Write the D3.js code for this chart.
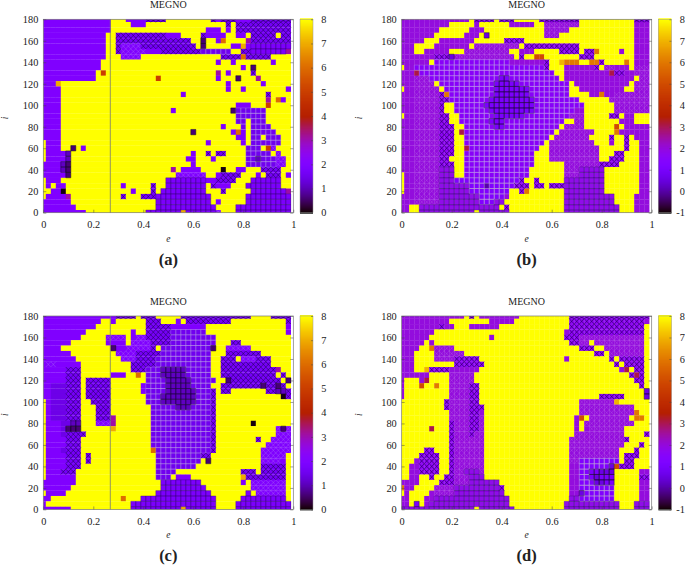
<!DOCTYPE html>
<html>
<head>
<meta charset="utf-8">
<script src="https://cdn.jsdelivr.net/npm/d3@7"></script>
<style>
  html, body { margin: 0; padding: 0; background: #fff; }
  text { font-family: "Liberation Serif", serif; fill: #222; }
</style>
</head>
<body>
<div id="chart"></div>
<script>
"use strict";

// one row per inclination, i = 180 at the top down to 0, run-length coded as count + level code
// columns are e = 0, 0.02 ... 0.98
var rowsA = [
  "14p 3Y 4p 4x 9Y 1x 1p 3x 3p 8x",
  "14p 4Y 3p 16Y 1x 1Y 11x",
  "14p 19Y 3p 1Y 1p 1Y 11x",
  "13p 2Y 10x 3p 4Y 1x 4p 2Y 2p 1Y 5x 1Y 2x",
  "13p 2Y 15x 2Y 1k 2Y 1p 1n 4Y 1m 8x",
  "13p 2Y 1x 4c 11x 1Y 1k 5Y 2p 1o 1p 8s",
  "13p 2Y 1x 5c 3p 8x 6g 2Y 2x 7s 1m",
  "13p 3Y 4c 16Y 4x 1n 5x 4Y",
  "12p 23Y 1p 2Y 1p 7Y 1p 3Y",
  "12p 28Y 1p 1Y 1k 7Y",
  "11p 1Y 1r 22Y 1m 1Y 1p 4Y 1x 7Y",
  "11p 12Y 1r 11Y 1p 3Y 1k 3Y 1m 6Y",
  "3p 1o 33Y 1p 6Y 1p 5Y",
  "4p 33Y 1p 2Y 1p 8Y 1p",
  "4p 24Y 1p 16Y 1x 4Y",
  "4p 41Y 1m 1Y 1n 1p 1Y",
  "4p 35Y 3p 3Y 1r 4Y",
  "4p 22Y 1p 11Y 1k 6g 5Y",
  "4p 35Y 6g 5Y",
  "4p 35Y 2g 1Y 3g 5Y",
  "4p 32Y 1p 3Y 1g 1Y 4g 4Y",
  "4p 26Y 1k 7Y 1p 1n 1p 1Y 5g 3Y",
  "4p 35Y 2p 1Y 2g 1Y 3g 2Y",
  "1Y 3p 29Y 1p 6Y 1p 1Y 6g 2Y",
  "1Y 3p 2Y 1k 1Y 1p 32Y 3g 1Y 1r 1c 3Y",
  "1Y 4p 1d 24Y 1p 2Y 1x 1Y 2x 4Y 5g 1Y 1c 2Y",
  "1Y 4p 1d 23Y 2p 3Y 1p 6Y 2g 1d 3g 2c 1Y",
  "4p 1d 1k 24Y 1p 10Y 6g 2c 1Y",
  "4p 1d 1k 20Y 1m 1Y 4p 4Y 1z 2Y 2p 3Y 4x 2Y",
  "5p 1k 21Y 6c 2Y 1p 4x 3Y 1p 1Y 3x 1Y 1p",
  "1Y 3p 21Y 8s 2p 4x 3Y 6s 2Y",
  "1Y 1p 1Y 2p 11Y 1p 5Y 1x 2Y 8s 1Y 1x 3p 3Y 7s 2Y",
  "2Y 2p 1z 13Y 1p 3Y 1x 1Y 9s 3Y 1x 5Y 7s 1m",
  "1Y 4p 1m 10Y 1x 3Y 2x 1x 11s 7Y 9s",
  "6p 17Y 11s 1Y 1p 5Y 9s",
  "7p 16Y 12s 4Y 11s",
  "9p 12Y 7s 1o 6s 1c 3Y 11s"
];

var rowsB = [
  "14p 1Y 4x 1Y 3x 5Y 8x 11Y 3x",
  "10p 5Y 1p 6Y 5p 2Y 7c 11Y 3p",
  "8p 6Y 3p 12Y 5c 13Y 3p",
  "7p 6Y 3p 1Y 1k 11Y 3c 15Y 3p",
  "5p 3Y 7p 6Y 4x 22Y 3p",
  "3p 3Y 1Y 6p 1p 1Y 9c 1Y 11x 11Y 3p",
  "3p 2Y 5p 3Y 9c 2Y 3p 5Y 4x 1Y 2x 1n 4Y 1p 2Y 3p",
  "7p 3x 1k 12c 1Y 1x 2Y 2r 7Y 3x 8Y 3p",
  "6p 1Y 15g 7p 1x 2Y 1o 3n 2Y 2n 1x 4Y 1n 1Y 3p",
  "1Y 2p 26g 1x 3Y 6p 1x 1Y 2c 3p 1Y 3c",
  "3p 1m 27g 2Y 9p 1m 2x 2p 3c",
  "3p 3c 14g 2d 10g 1Y 14p 1Y 2c",
  "3p 4c 1Y 11g 5d 10g 1Y 11p 1Y 3c",
  "1Y 2p 5c 1Y 10g 7d 8g 2Y 6p 3p 2Y 3c",
  "3p 5c 1x 1n 9g 7d 8g 4Y 2p 1n 2p 7c",
  "3p 5c 2x 8g 9d 9g 6Y 8c",
  "3p 5c 1x 2Y 6g 10d 10g 6Y 7c",
  "3p 5c 1x 2Y 7g 9d 8g 2p 6Y 7c",
  "1Y 2p 5c 2x 2Y 7g 6d 9g 3c 4Y 1Y 2x 1Y 2p 3Y",
  "3p 5c 2x 2Y 6g 3d 12g 2Y 2c 7Y 3p 3Y",
  "3p 5c 3x 2Y 6g 2d 11g 1Y 4c 6Y 1r 1Y 5p",
  "3p 5c 3x 1Y 1m 18g 1Y 7c 4Y 1n 6p",
  "3p 5c 3x 2Y 17g 1Y 7c 4Y 1x 2Y 1x 1Y 3p",
  "3p 5c 3x 2Y 16g 1Y 9c 3Y 1p 2Y 1x 2Y 2p",
  "3p 5c 3x 2Y 1m 14g 2Y 10c 5Y 1x 2Y 2p",
  "3p 5c 3x 2Y 14g 3Y 10c 2Y 1Y 2x 3Y 2p",
  "3p 5c 2x 3Y 14g 3Y 3c 7c 2Y 3x 3Y 2p",
  "3p 5c 3x 2Y 14g 6Y 6c 1c 4x 4Y 2p",
  "3p 5c 3s 2Y 13g 7Y 3c 5s 7Y 2p",
  "1Y 2p 5c 3s 2Y 13g 7Y 3c 5s 7Y 2p",
  "1Y 2p 5c 3s 13h 1x 2Y 1x 5Y 3s 5s 7Y 2p",
  "1Y 2p 5c 3s 3s 3h 1z 5h 1x 2x 1Y 2x 1Y 3x 3s 5s 7Y 2p",
  "1Y 2p 5c 4s 2s 8h 2Y 1x 1n 7Y 3s 5s 7Y 2p",
  "3p 5c 8s 5h 1p 11Y 9s 1s 4Y 3p",
  "3p 5c 8s 3h 2s 12Y 10s 4Y 3p",
  "2p 2Y 12s 4s 1Y 1x 11Y 11s 3Y 3p",
  "2p 2Y 11s 1Y 6s 11Y 11s 3Y 3p"
];

var rowsC = [
  "15p 4x 1Y 3x 5Y 14x 4Y 4x",
  "12p 2Y 1p 6Y 3x 3Y 1p 1Y 9x 11Y 1x",
  "11p 10Y 5x 7p 16Y 1p",
  "9p 9Y 1p 2Y 5x 7g 16Y 1p",
  "8p 5Y 4c 1Y 1p 2c 5x 9g 15Y",
  "6p 7Y 4p 1Y 4c 4x 9g 3Y 2x 10Y",
  "4p 10Y 1k 2p 5c 1x 1Y 10g 1k 2Y 5c 8Y",
  "6p 9Y 4c 5x 10g 3Y 7x 6Y",
  "7p 9Y 3c 4x 11g 2Y 3x 1Y 3c 3x 4Y",
  "1p 2c 5p 10Y 5x 11g 2Y 9x 1x 4Y",
  "5p 3x 10Y 3x 1g 1g 1g 5d 5g 2Y 8x 2x 1x 1m 2Y",
  "5p 3x 6Y 3p 2Y 1n 1Y 3g 5d 5g 2Y 7x 4x 1Y 1x 1Y",
  "5p 3x 1Y 5x 7Y 3g 1g 5d 5g 2Y 1k 7x 3x 1Y 1k 1Y",
  "2p 3e 3x 1Y 5x 6Y 1p 4g 5d 4g 2Y 8x 1k 2x 1k 1x 1Y",
  "2p 3e 3x 1Y 5x 6Y 1p 4g 6d 3g 1x 1Y 2x 7Y 2x 2d 1x",
  "2p 3e 3x 1Y 5x 7Y 3g 7d 3g 1x 13Y 1z 1x",
  "1Y 1p 3e 3x 2Y 4x 7Y 3g 7d 3g 1x 15Y",
  "1Y 1p 3e 3x 3Y 3x 8Y 5g 3d 4g 1x 15Y",
  "1Y 1p 3e 3x 3Y 3x 8Y 12g 1x 15Y",
  "1Y 1p 3e 3x 3Y 3x 1m 7Y 12g 1x 15Y",
  "1Y 1p 2p 2e 2d 3Y 3c 1m 7Y 12g 1x 7Y 1z 7Y",
  "1Y 1p 2p 1e 3k 6Y 1o 7Y 12g 1x 12Y 1c 1k 1c",
  "1Y 3p 1e 3x 1x 13Y 12g 1x 12Y 3c",
  "1Y 3p 1p 3x 14Y 12g 1x 8Y 1x 2Y 4c",
  "1Y 3p 1p 3x 14Y 12g 1x 10Y 5c",
  "1Y 3p 1e 3x 14Y 1n 11g 1x 9Y 6c",
  "1Y 3p 1p 3x 1Y 1x 13Y 9g 2x 10Y 5c 1Y",
  "1Y 3p 1p 3x 1Y 1x 13Y 9g 1Y 1k 10Y 4c 1p 1Y",
  "1Y 3p 1p 3x 15Y 8g 13Y 5x 1Y",
  "1Y 3p 3x 16Y 4g 13Y 3x 1Y 5x 1Y",
  "1Y 5p 1p 16Y 3g 1Y 3p 10Y 1o 8x 1Y",
  "7p 17Y 8s 8Y 1p 1Y 7c 1Y",
  "6p 18Y 9s 9Y 7c 1Y",
  "1Y 4p 18Y 11s 7Y 1s 1Y 6c 1Y",
  "2p 14Y 1n 3Y 15s 5Y 9s 1Y",
  "1p 17Y 17s 4Y 11s",
  "6p 12Y 10s 1o 6s 4Y 11s"
];

var rowsD = [
  "13p 1Y 1x 1Y 8p 10Y 16x",
  "10p 8Y 5p 11Y 15x 1p",
  "8p 1x 2p 3Y 6p 14Y 15x 1Y",
  "7p 26Y 1p 15x 1Y",
  "6p 12Y 1p 14Y 3x 13c 1Y",
  "5p 1Y 1p 27Y 2x 2c 1Y 10c 1Y",
  "4p 2Y 1n 4c 25Y 1x 1x 1x 2Y 8c 1Y",
  "3p 3Y 1Y 6c 26Y 2x 1Y 7c 1Y",
  "3p 3Y 1Y 4c 5x 17Y 1p 8Y 1x 1Y 5x 1Y",
  "3p 8Y 6x 26Y 1x 1Y 4x 1Y",
  "3p 2Y 1o 4x 6p 28Y 1p 1m 1Y 2x 1Y",
  "6p 3Y 1Y 5c 31Y 1x 1m 1x 1Y",
  "1p 3Y 1p 1m 4Y 5c 31Y 1Y 2x 1Y",
  "1p 3Y 1r 2Y 1n 2Y 4c 2x 32Y 1x 1Y",
  "1p 9Y 4c 2x 33Y 1k",
  "1p 9Y 4c 2x 24Y 5x 4Y 1k",
  "9Y 1x 4c 2x 20Y 7c 1o 6Y",
  "9Y 1x 4c 3x 19Y 11c 3Y",
  "10Y 4c 2x 1p 19Y 11c 1n 2Y",
  "10Y 4c 2x 1c 18Y 1p 1r 1Y 8c 1Y 2n 1Y",
  "10Y 1x 3c 2x 1c 18Y 1p 1Y 10c 3Y",
  "6Y 1m 3Y 1x 3c 2x 1c 18Y 1p 1Y 1p 7c 5Y",
  "10Y 1x 3c 1x 2c 18Y 10c 4Y 1x",
  "10Y 1x 6c 17Y 11c 1x 4Y",
  "10Y 1x 6c 17Y 11c 3Y 1x 1Y",
  "5Y 2x 3Y 1x 6c 17Y 10c 3Y 1x 2Y",
  "4Y 4x 2Y 1x 6c 17Y 10c 1Y 3x 2Y",
  "3Y 1p 4x 2Y 1x 6c 17Y 2c 8h 1Y 2x 3Y",
  "2Y 2p 4x 2Y 1x 6c 17Y 2p 6h 1k 1r 3x 3Y",
  "2Y 2p 4x 2Y 1x 2c 3s 1c 17Y 2p 2h 2d 3k 5Y 2p",
  "2Y 2p 2Y 1x 2Y 2x 3c 3s 17Y 2p 2h 1d 1k 3d 5Y 2x",
  "4p 4Y 1x 2x 3c 6s 14Y 2p 3h 2k 2d 5Y 2p",
  "1n 2p 4Y 4c 9s 1x 13Y 2p 7h 5Y 2p",
  "1Y 1p 4Y 1p 4c 10s 13Y 2p 1k 6h 5Y 2p",
  "2p 3Y 2p 15s 12Y 2s 7h 5Y 2p",
  "2p 1Y 1d 1Y 1p 16s 11Y 11s 3Y 3s",
  "15s 1Y 7s 10Y 11s 3Y 3s"
];

var panelLabels = ["(a)", "(b)", "(c)", "(d)"];
var panelRows = [rowsA, rowsB, rowsC, rowsD];
var colorMins = [0, -1, 0, -1];
var colorMax = 8;
var boundaryE = [0.268, null, 0.268, null];

var levelCodes = ["Y", "o", "n", "r", "m", "p", "c", "s", "x", "g", "e", "h", "d", "k", "z"];
var levelValues = [8, 7, 6, 5, 3.1, 2, 2, 1.85, 1.7, 1.55, 1.45, 1.3, 1.1, 0.6, 0.05];

var eTicks = [0, 0.2, 0.4, 0.6, 0.8, 1];
var iTicks = [0, 20, 40, 60, 80, 100, 120, 140, 160, 180];

var eStep = 0.02;
var iStep = 5;

// set params
var width = 685;
var height = 566;
var plotLefts = [43.3, 401.7, 43.3, 401.7];
var plotTops = [19.3, 19.3, 316, 316];
var iLabelOffsets = [35.8, 39.7, 35.8, 39.7];
var plotWidth = 250;
var plotHeight = 193.4;
var barGap = 6.7;
var barWidth = 13;

var textures = {
  x: { stroke: "#1c0648", opacity: 0.85, shape: "cross" },
  c: { stroke: "#d0c4e8", opacity: 0.3, shape: "cross" },
  s: { stroke: "#34106a", opacity: 0.55, shape: "box" },
  g: { stroke: "#c8c0dc", opacity: 0.45, shape: "box" },
  h: { stroke: "#c0b8c8", opacity: 0.6, shape: "box" },
  d: { stroke: "#1c0a38", opacity: 0.8, shape: "box" },
  k: { stroke: "#120620", opacity: 0.8, shape: "box" }
};

var levelByCode = new Map(levelCodes.map(function(code, index) {
  return [code, levelValues[index]];
}));

// gnuplot default pm3d palette (rgbformulae 7,5,15)
function gnuplotPalette(t) {
  var r = Math.sqrt(t);
  var g = t * t * t;
  var b = Math.max(0, Math.sin(2 * Math.PI * t));
  return d3.rgb(r * 255, g * 255, b * 255).formatHex();
}

function decodeRow(row) {
  var cells = [];
  row.split(" ").forEach(function(run) {
    var count = parseInt(run, 10);
    var code = run.slice(-1);
    for (var n = 0; n < count; n++) {
      cells.push(code);
    }
  });
  return cells.slice(0, 50);
}

function texturePath(cell, x, y) {
  var x0 = Math.max(x.range()[0], x(cell.e - eStep / 2));
  var x1 = x(cell.e + eStep / 2);
  var y0 = Math.min(y.range()[0], y(cell.i - iStep / 2));
  var y1 = Math.max(y.range()[1], y(cell.i + iStep / 2));
  var path = d3.path();
  if (textures[cell.code].shape === "cross") {
    path.moveTo(x0, y0);
    path.lineTo(x1, y1);
    path.moveTo(x1, y0);
    path.lineTo(x0, y1);
  } else {
    path.rect(x0, y1, x1 - x0, y0 - y1);
  }
  return path.toString();
}

var svg = d3.select("#chart")
  .append("svg")
  .attr("width", width)
  .attr("height", height);

var defs = svg.append("defs");
defs.append("filter")
  .attr("id", "soften")
  .append("feGaussianBlur")
  .attr("stdDeviation", 0.45);

panelLabels.forEach(function(label, index) {
  var left = plotLefts[index];
  var top = plotTops[index];
  var cbMin = colorMins[index];

  var x = d3.scaleLinear().domain([0, 1]).range([0, plotWidth]);
  var y = d3.scaleLinear().domain([0, 180]).range([plotHeight, 0]);
  var color = d3.scaleSequential(gnuplotPalette).domain([cbMin, colorMax]);
  var barScale = d3.scaleLinear().domain([cbMin, colorMax]).range([plotHeight, 0]);

  var cells = [];
  panelRows[index].forEach(function(row, rowIndex) {
    decodeRow(row).forEach(function(code, colIndex) {
      cells.push({ e: colIndex * eStep, i: 180 - rowIndex * iStep, code: code });
    });
  });

  defs.append("clipPath")
    .attr("id", "clip" + index)
    .append("rect")
    .attr("width", plotWidth)
    .attr("height", plotHeight);

  var panel = svg.append("g")
    .attr("transform", "translate(" + left + "," + top + ")");

  var heat = panel.append("g")
    .attr("clip-path", "url(#clip" + index + ")")
    .append("g")
    .attr("filter", "url(#soften)");

  heat.selectAll("rect")
    .data(cells)
    .enter()
    .append("rect")
    .attr("x", function(cell) { return x(cell.e - eStep / 2); })
    .attr("y", function(cell) { return y(cell.i + iStep / 2); })
    .attr("width", x(eStep) - x(0) + 0.2)
    .attr("height", y(0) - y(iStep) + 0.2)
    .attr("fill", function(cell) { return color(levelByCode.get(cell.code)); });

  heat.selectAll("path")
    .data(cells.filter(function(cell) { return textures[cell.code]; }))
    .enter()
    .append("path")
    .attr("d", function(cell) { return texturePath(cell, x, y); })
    .attr("fill", "none")
    .attr("stroke", function(cell) { return textures[cell.code].stroke; })
    .attr("stroke-opacity", function(cell) { return textures[cell.code].opacity; })
    .attr("stroke-width", 0.6);

  if (boundaryE[index] !== null) {
    panel.append("line")
      .attr("x1", x(boundaryE[index]))
      .attr("x2", x(boundaryE[index]))
      .attr("y1", 0)
      .attr("y2", plotHeight)
      .attr("stroke", "#777")
      .attr("stroke-width", 0.8);
  }

  // frame and axes
  panel.append("rect")
    .attr("width", plotWidth)
    .attr("height", plotHeight)
    .attr("fill", "none")
    .attr("stroke", "#777")
    .attr("stroke-width", 0.7);

  var xAxis = panel.append("g")
    .attr("transform", "translate(0," + plotHeight + ")")
    .call(d3.axisBottom(x).tickValues(eTicks).tickFormat(d3.format("")).tickSize(-3).tickPadding(8));
  var yAxis = panel.append("g")
    .call(d3.axisLeft(y).tickValues(iTicks).tickSize(-3).tickPadding(5));
  var yMirror = panel.append("g")
    .attr("transform", "translate(" + plotWidth + ",0)")
    .call(d3.axisRight(y).tickValues(iTicks).tickFormat("").tickSize(-3));

  // colour box
  var bar = panel.append("g")
    .attr("transform", "translate(" + (plotWidth + barGap) + ",0)");
  var barLevels = d3.range(0, 200).map(function(step) {
    return cbMin + (colorMax - cbMin) * step / 199;
  });
  bar.selectAll("rect")
    .data(barLevels)
    .enter()
    .append("rect")
    .attr("y", function(level) { return barScale(level) - 1; })
    .attr("width", barWidth)
    .attr("height", plotHeight / 199 + 1)
    .attr("fill", function(level) { return color(level); });
  bar.append("rect")
    .attr("width", barWidth)
    .attr("height", plotHeight)
    .attr("fill", "none")
    .attr("stroke", "#999")
    .attr("stroke-width", 0.5);
  var barAxis = bar.append("g")
    .attr("transform", "translate(" + barWidth + ",0)")
    .call(d3.axisRight(barScale).tickValues(d3.range(cbMin, colorMax + 1)).tickFormat(String).tickSize(-2));
  barAxis.selectAll("text")
    .attr("x", 13.5)
    .attr("text-anchor", "end");

  [xAxis, yAxis, yMirror, barAxis].forEach(function(axis) {
    axis.select(".domain").remove();
    axis.selectAll("line").attr("stroke", "#444").attr("stroke-width", 0.5);
    axis.selectAll("text")
      .attr("font-size", 10.3)
      .attr("font-family", "Liberation Serif")
      .attr("fill", "#222");
  });

  // labels
  panel.append("text")
    .attr("x", plotWidth / 2)
    .attr("y", -11)
    .attr("text-anchor", "middle")
    .attr("font-size", 10)
    .text("MEGNO");
  panel.append("text")
    .attr("x", plotWidth / 2)
    .attr("y", plotHeight + 29)
    .attr("text-anchor", "middle")
    .attr("font-size", 9.5)
    .attr("font-style", "italic")
    .text("e");
  panel.append("text")
    .attr("transform", "translate(" + (-iLabelOffsets[index]) + "," + (plotHeight / 2 + 2) + ") rotate(-90)")
    .attr("text-anchor", "middle")
    .attr("font-size", 9.5)
    .attr("font-style", "italic")
    .text("i");
  panel.append("text")
    .attr("x", plotWidth / 2)
    .attr("y", plotHeight + 52)
    .attr("text-anchor", "middle")
    .attr("font-size", 16.5)
    .attr("font-weight", "bold")
    .text(label);
});
</script>
</body>
</html>
